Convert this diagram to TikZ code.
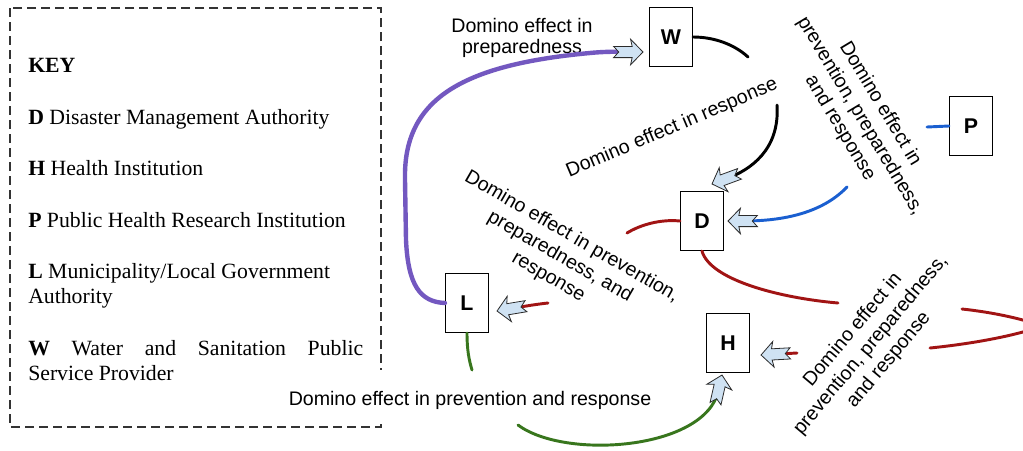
\documentclass[tikz,border=0pt]{standalone}
\usepackage{fontspec}
\setmainfont{Liberation Serif}
\newfontfamily\labelfont{Liberation Sans}
\usetikzlibrary{arrows.meta}

\definecolor{effpurple}{HTML}{7358C0}
\definecolor{effred}{HTML}{A11414}
\definecolor{effblue}{HTML}{1A5FD0}
\definecolor{effgreen}{HTML}{38761D}
\definecolor{tipfill}{HTML}{CFE2F3}
\definecolor{tipline}{HTML}{2B2B2B}
\definecolor{keyline}{HTML}{333333}

% notched block arrow head, light blue with a dark outline
\pgfdeclarearrow{
  name = Domino,
  setup code = {
    \pgfarrowssettipend{0pt}
    \pgfarrowssetlineend{-12pt}
    \pgfarrowssetbackend{-22pt}
    \pgfarrowshullpoint{0pt}{0pt}
    \pgfarrowshullpoint{-9.3pt}{9.6pt}
    \pgfarrowshullpoint{-9.3pt}{-9.6pt}
    \pgfarrowshullpoint{-22pt}{4.2pt}
    \pgfarrowshullpoint{-22pt}{-4.2pt}
  },
  drawing code = {
    \pgfsetlinewidth{0.6pt}
    \pgfsetmiterjoin
    \pgfsetstrokecolor{tipline}
    \pgfsetfillcolor{tipfill}
    \pgfpathmoveto{\pgfpointorigin}
    \pgfpathlineto{\pgfpoint{-9.3pt}{9.6pt}}
    \pgfpathlineto{\pgfpoint{-8.1pt}{4.2pt}}
    \pgfpathlineto{\pgfpoint{-22pt}{4.2pt}}
    \pgfpathlineto{\pgfpoint{-18.2pt}{0pt}}
    \pgfpathlineto{\pgfpoint{-22pt}{-4.2pt}}
    \pgfpathlineto{\pgfpoint{-8.1pt}{-4.2pt}}
    \pgfpathlineto{\pgfpoint{-9.3pt}{-9.6pt}}
    \pgfpathclose
    \pgfusepathqfillstroke
  }
}

\tikzset{
  keybox/.style={draw=keyline, line width=1pt, dash pattern=on 6.5pt off 4pt},
  keytext/.style={anchor=base west, inner sep=0pt, font=\fontsize{16.3}{19}\selectfont},
  agent/.style={draw=black, line width=0.8pt, fill=white, minimum width=32.25pt,
    minimum height=44.25pt, inner sep=0pt,
    font=\labelfont\bfseries\fontsize{16}{18}\selectfont},
  effect/.style={font=\labelfont\fontsize{14.7}{17.5}\selectfont, align=center, inner sep=1pt},
  link/.style={line width=2.2pt, line cap=round},
  purplecon/.style={link, draw=effpurple, line width=3.3pt},
  blackcon/.style={link, draw=black},
  bluecon/.style={link, draw=effblue},
  redcon/.style={link, draw=effred},
  greencon/.style={link, draw=effgreen},
}

\begin{document}
\begin{tikzpicture}[x=0.75pt, y=-0.75pt]
  \fill[white] (0,0) rectangle (1023,450);
  \useasboundingbox (0,0) rectangle (1023,450);

  % legend
  \draw[keybox] (10,8) rectangle (381,427);
  \node[keytext] (kkey) at (28,72) {\textbf{KEY}};
  \node[keytext] (kd) at (28,124) {\textbf{D} Disaster Management Authority};
  \node[keytext] (kh) at (28,175) {\textbf{H} Health Institution};
  \node[keytext] (kp) at (28,227) {\textbf{P} Public Health Research Institution};
  \node[keytext] (kl1) at (28,278) {\textbf{L} Municipality/Local Government};
  \node[keytext] (kl2) at (28,303) {Authority};
  \node[keytext] (kw1) at (28,355) {\hbox to 251.25pt{\textbf{W}\hfill Water\hfill and\hfill Sanitation\hfill Public}};
  \node[keytext] (kw2) at (28,380) {Service Provider};

  % edge labels
  \node[effect, font=\labelfont\fontsize{14.7}{15.5}\selectfont] (lprep) at (522,38) {Domino effect in\\preparedness};
  \node[effect, anchor=base, rotate=23] (lresp) at (674,133) {Domino effect in response};
  \node[effect, rotate=-59] (lpd) at (860,116) {Domino effect in\\prevention, preparedness,\\and response};
  \node[effect, rotate=-30] (ldl) at (560,257) {Domino effect in prevention,\\preparedness, and\\response};
  \node[effect, rotate=50] (ldh) at (871,345) {Domino effect in\\prevention, preparedness,\\and response};
  \node[effect, anchor=base, fill=white, inner sep=0pt, text height=26.25pt, text depth=11.25pt]
    (llh) at (470,405) {Domino effect in prevention and response};

  % agencies
  \node[agent] (W) at (671,37) {W};
  \node[agent] (D) at (702,221) {D};
  \node[agent] (L) at (467,303) {L};
  \node[agent] (H) at (728,343) {H};
  \node[agent] (P) at (971,126) {P};

  % free ends where the connectors break around their labels
  \coordinate (wd1) at (748,57);
  \coordinate (wd2) at (777,105);
  \coordinate (pd1) at (927,127);
  \coordinate (pd2) at (847,187);
  \coordinate (dl1) at (627,233);
  \coordinate (dl2) at (548,303);
  \coordinate (dh1) at (838,303);
  \coordinate (dh2) at (962,309);
  \coordinate (dh3) at (930,348);
  \coordinate (dh4) at (797,353);
  \coordinate (lh1) at (472,370);
  \coordinate (lh2) at (518,425);

  % L -> W
  \draw[purplecon, -Domino] (L.west) .. controls (420,302) and (408,285) .. (406,240)
    -- (405,180) .. controls (403,100) and (460,65) .. (590,53)
    .. controls (610,51) and (625,52) .. ([shift={(-6,15)}]W.west);

  % W -> D
  \draw[blackcon] (W.east) .. controls (715,37) and (735,45) .. (wd1);
  \draw[blackcon, -Domino] (wd2) .. controls (780,150) and (750,170) .. ([shift={(10,-7)}]D.north);

  % P -> D
  \draw[bluecon] (P.west) -- (pd1);
  \draw[bluecon, -Domino] (pd2) .. controls (825,210) and (790,221) .. ([shift={(4,0)}]D.east);

  % D -> L
  \draw[redcon] (D.west) .. controls (660,219) and (640,225) .. (dl1);
  \draw[redcon, -Domino] (dl2) .. controls (530,305) and (515,308) .. ([shift={(8,8)}]L.east);

  % D -> H
  \draw[redcon] (D.south) .. controls (710,280) and (780,298) .. (dh1);
  \begin{scope}
    \clip (0,0) rectangle (1023,450);
    \draw[redcon] (dh2) .. controls (990,312) and (1020,318) .. (1042,326)
      .. controls (1015,336) and (970,344) .. (dh3);
  \end{scope}
  \draw[redcon, -Domino] (dh4) -- ([shift={(11,12)}]H.east);

  % L -> H
  \draw[greencon] (L.south) .. controls (467,350) and (469,360) .. (lh1);
  \draw[greencon, -Domino] (lh2) .. controls (565,460) and (705,450) .. ([shift={(-6,2)}]H.south);
\end{tikzpicture}
\end{document}
